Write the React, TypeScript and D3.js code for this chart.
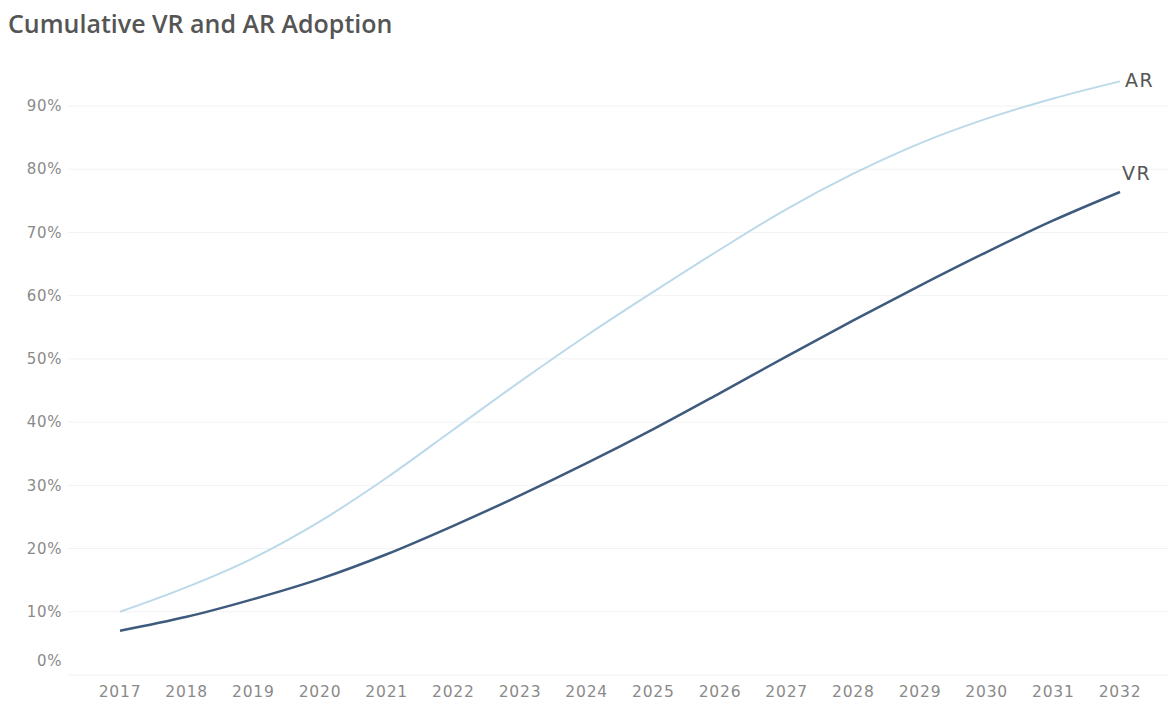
import React from "react";
import * as d3 from "d3";

const years = [2017, 2018, 2019, 2020, 2021, 2022, 2023, 2024, 2025, 2026, 2027, 2028, 2029, 2030, 2031, 2032];
const arValues = [10, 13.9, 18.5, 24.3, 31.2, 38.8, 46.4, 53.7, 60.6, 67.3, 73.7, 79.3, 84.1, 88.0, 91.2, 93.9];
const vrValues = [7.0, 9.2, 12.0, 15.2, 19.1, 23.6, 28.4, 33.5, 38.9, 44.6, 50.4, 56.1, 61.6, 66.9, 71.9, 76.4];
const yTicks = [0, 10, 20, 30, 40, 50, 60, 70, 80, 90];
const title = "Cumulative VR and AR Adoption";

const W = 1168;
const H = 706;
const TICK_FONT = "'DejaVu Sans', sans-serif";
const TITLE_FONT = "'Open Sans', 'Noto Sans', sans-serif";

export default function App() {
  const x = d3.scaleLinear().domain([2017, 2032]).range([120, 1120]);
  const y = d3.scaleLinear().domain([0, 90]).range([675, 106]);
  const line = d3
    .line<number>()
    .x((_, i) => x(years[i]))
    .y((d) => y(d))
    .curve(d3.curveMonotoneX);

  return (
    <svg
      width={W}
      height={H}
      style={{ position: "absolute", left: 0, top: 0, background: "#fff" }}
    >
      <text x={8} y={33} fontSize={25} fill="#555" fontWeight={600} fontFamily={TITLE_FONT}>
        {title}
      </text>
      {yTicks.map((t) => (
        <line key={"g" + t} x1={68} x2={W} y1={y(t)} y2={y(t)} stroke="#f2f2f2" strokeWidth={1} />
      ))}
      {yTicks.map((t) => (
        <text
          key={"yl" + t}
          x={62}
          y={t === 0 ? y(t) - 14 : y(t)}
          dy="0.35em"
          textAnchor="end"
          fontSize={15}
          letterSpacing={0.6}
          fill="#8a8a8a"
          fontFamily={TICK_FONT}
        >
          {t + "%"}
        </text>
      ))}
      {years.map((yr) => (
        <text
          key={"xl" + yr}
          x={x(yr)}
          y={692}
          dy="0.35em"
          textAnchor="middle"
          fontSize={15.5}
          letterSpacing={0.8}
          fill="#8a8a8a"
          fontFamily={TICK_FONT}
        >
          {yr}
        </text>
      ))}
      <path d={line(arValues) || ""} fill="none" stroke="#bcd9ea" strokeWidth={2} />
      <path d={line(vrValues) || ""} fill="none" stroke="#3e5b7e" strokeWidth={2.5} />
      <text
        x={1125}
        y={y(arValues[arValues.length - 1]) - 1}
        dy="0.35em"
        fontSize={19}
        letterSpacing={1.5}
        fill="#555"
        fontFamily={TICK_FONT}
      >
        AR
      </text>
      <text
        x={1122}
        y={y(vrValues[vrValues.length - 1]) - 19}
        dy="0.35em"
        fontSize={19}
        letterSpacing={1.5}
        fill="#555"
        fontFamily={TICK_FONT}
      >
        VR
      </text>
    </svg>
  );
}
